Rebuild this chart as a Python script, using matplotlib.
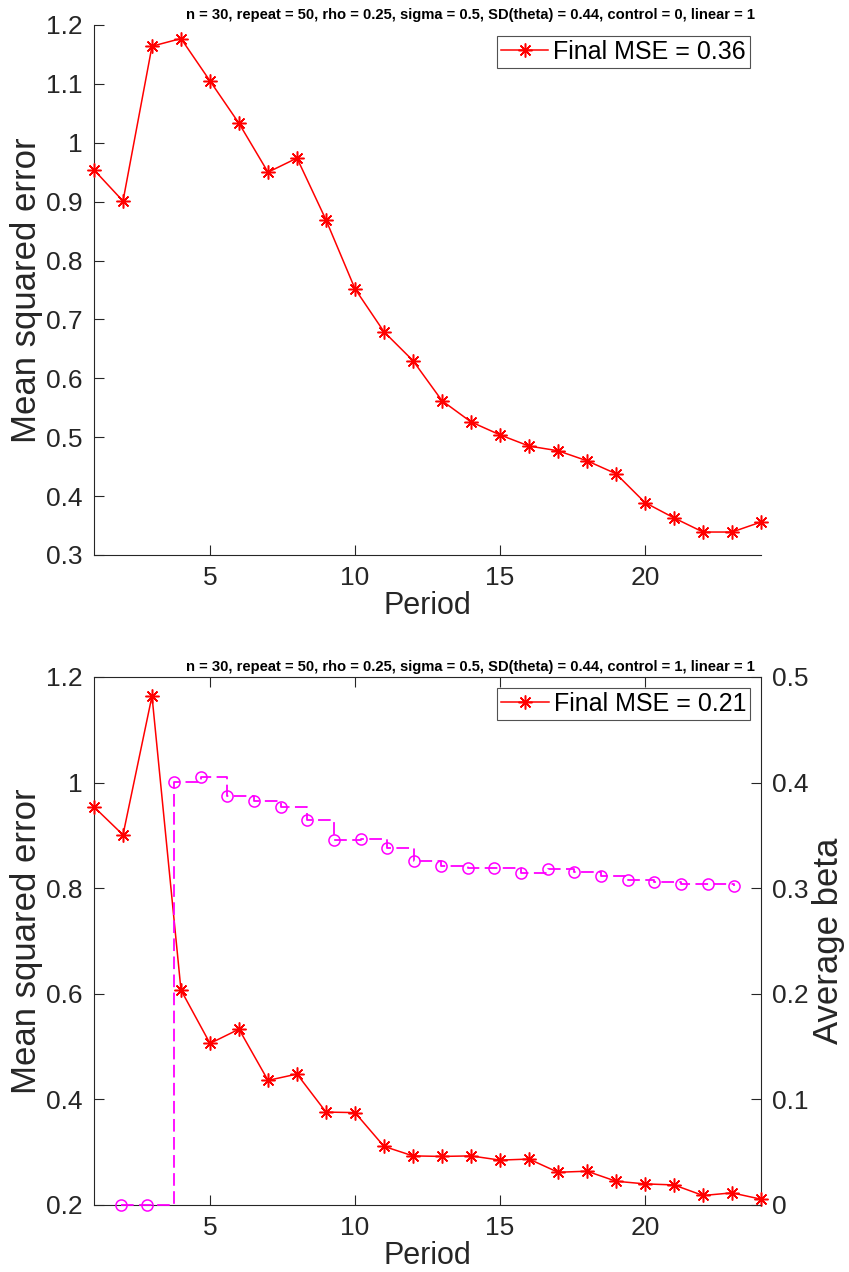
import matplotlib
matplotlib.use("Agg")
import matplotlib.pyplot as plt
from matplotlib.ticker import FormatStrFormatter

plt.rcParams['font.family'] = ['Liberation Sans', 'DejaVu Sans']

periods = list(range(1, 25))
mse_control0 = [0.954, 0.901, 1.164, 1.177, 1.105, 1.033, 0.950, 0.974, 0.869, 0.752,
                0.679, 0.630, 0.562, 0.526, 0.504, 0.485, 0.477, 0.460, 0.438, 0.389,
                0.363, 0.339, 0.339, 0.356]
mse_control1 = [0.954, 0.901, 1.164, 0.607, 0.506, 0.533, 0.436, 0.448, 0.376, 0.375,
                0.311, 0.293, 0.292, 0.293, 0.285, 0.287, 0.262, 0.264, 0.245, 0.240,
                0.238, 0.218, 0.223, 0.211]
beta_steps = list(range(1, 25))
avg_beta = [0.0, 0.0, 0.401, 0.405, 0.387, 0.383, 0.377, 0.365, 0.346, 0.347,
            0.338, 0.326, 0.321, 0.319, 0.319, 0.3145, 0.318, 0.315, 0.312, 0.3075,
            0.306, 0.304, 0.304, 0.302]

title0 = "n = 30, repeat = 50, rho = 0.25, sigma = 0.5, SD(theta) = 0.44, control = 0, linear = 1"
title1 = "n = 30, repeat = 50, rho = 0.25, sigma = 0.5, SD(theta) = 0.44, control = 1, linear = 1"
xticks = [5, 10, 15, 20]
yticks_top = [0.3, 0.4, 0.5, 0.6, 0.7, 0.8, 0.9, 1.0, 1.1, 1.2]
yticks_bot = [0.2, 0.4, 0.6, 0.8, 1.0, 1.2]
yticks_beta = [0, 0.1, 0.2, 0.3, 0.4, 0.5]

W, H = 849, 1272
fig = plt.figure(figsize=(W / 100, H / 100), dpi=100)

TXT = '#262626'
AX = '#262626'
star = (8, 2, 0)
TITLE_X = 0.564

def style(ax):
    ax.tick_params(direction='in', length=7, width=0.8, colors=AX, labelcolor=TXT,
                   labelsize=19, pad=8)
    for s in ax.spines.values():
        s.set_color(AX)
        s.set_linewidth(0.8)
    ax.yaxis.set_major_formatter(FormatStrFormatter('%g'))

def add_legend(ax):
    leg = ax.legend(loc='upper right', fontsize=18, frameon=True, fancybox=False,
                    edgecolor='#262626', handlelength=1.9, handletextpad=0.2,
                    borderpad=0.15, borderaxespad=0.45)
    leg.get_frame().set_linewidth(0.8)

# ---- top panel
ax1 = fig.add_axes([94 / W, 1 - 555 / H, 667 / W, 530 / H])
ax1.plot(periods, mse_control0, color='red', lw=1.1, marker=star, ms=10, mew=1.1,
         clip_on=False, label='Final MSE = 0.36', zorder=3)
ax1.set_xlim(1, 24)
ax1.set_ylim(0.3, 1.2)
ax1.set_xticks(xticks)
ax1.set_yticks(yticks_top)
ax1.spines['top'].set_visible(False)
ax1.spines['right'].set_visible(False)
style(ax1)
ax1.set_xlabel('Period', fontsize=22, color=TXT, labelpad=1)
ax1.set_ylabel('Mean squared error', fontsize=25, color=TXT, labelpad=2)
ax1.set_title(title0, fontsize=10.6, fontweight='bold', pad=4, x=TITLE_X)
add_legend(ax1)

# ---- bottom panel
ax2 = fig.add_axes([94 / W, 1 - 1205 / H, 667 / W, 528 / H])
ax2.plot(periods, mse_control1, color='red', lw=1.1, marker=star, ms=10, mew=1.1,
         clip_on=False, label='Final MSE = 0.21', zorder=3)
ax2.set_xlim(1, 24)
ax2.set_ylim(0.2, 1.2)
ax2.set_xticks(xticks)
ax2.set_yticks(yticks_bot)
style(ax2)
ax2.tick_params(top=True, right=False)
ax2.set_xlabel('Period', fontsize=22, color=TXT, labelpad=1)
ax2.set_ylabel('Mean squared error', fontsize=25, color=TXT, labelpad=2)
ax2.set_title(title1, fontsize=10.6, fontweight='bold', pad=4, x=TITLE_X)
add_legend(ax2)

axr = fig.add_axes(ax2.get_position(), frameon=False)
axr.step(beta_steps, avg_beta, where='post', color='magenta', lw=1.3,
         linestyle=(0, (7, 3)), marker='o', ms=8, mfc='none', mew=1.1, clip_on=False)
axr.set_xlim(0, 25)
axr.set_ylim(0, 0.5)
axr.set_yticks(yticks_beta)
axr.xaxis.set_visible(False)
axr.yaxis.tick_right()
axr.yaxis.set_label_position('right')
style(axr)
axr.tick_params(left=False, right=True)
axr.set_ylabel('Average beta', fontsize=25, color=TXT, labelpad=2)

fig.savefig('out.png', dpi=100)
